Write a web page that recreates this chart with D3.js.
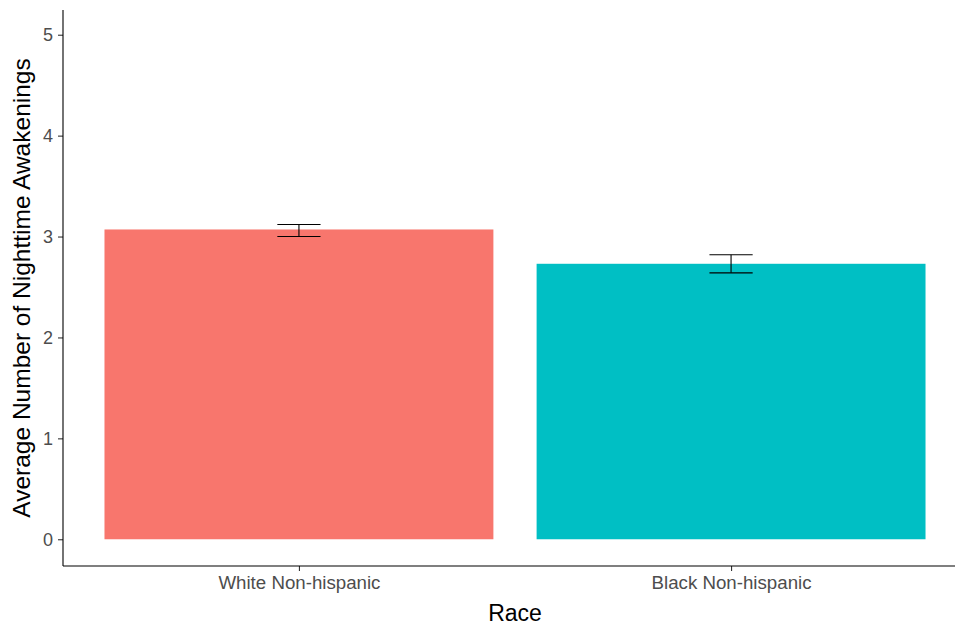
<!DOCTYPE html>
<html>
<head>
<meta charset="utf-8">
<script src="https://cdn.jsdelivr.net/npm/d3@7"></script>
<style>
  html, body { margin: 0; padding: 0; background: #fff; }
  svg { display: block; font-family: "Liberation Sans", Arial, sans-serif; }
</style>
</head>
<body>
<svg id="chart" width="955" height="625"></svg>
<script>
const categories = ["White Non-hispanic", "Black Non-hispanic"];
const means = [3.07, 2.73];
const errLow = [3.00, 2.64];
const errHigh = [3.12, 2.82];
const colors = ["#F8766D", "#00BFC4"];
const yTicks = [0, 1, 2, 3, 4, 5];
const xTitle = "Race";
const yTitle = "Average Number of Nighttime Awakenings";

const svg = d3.select("#chart");
const pLeft = 63, pRight = 967, pTop = 10, pBottom = 566;

const x = d3.scalePoint().domain(categories).range([pLeft, pRight]).padding(0.546);
const step = x.step();
const barW = step * 0.9;
const capW = step * 0.05;
const y = d3.scaleLinear().domain([-0.265, 5.245]).range([pBottom, pTop]);

// bars
svg.append("g").selectAll("rect").data(categories).join("rect")
  .attr("x", d => x(d) - barW / 2)
  .attr("width", barW)
  .attr("y", (d, i) => y(means[i]))
  .attr("height", (d, i) => y(0) - y(means[i]))
  .attr("fill", (d, i) => colors[i]);

// error bars
const eb = svg.append("g").attr("stroke", "#000").attr("stroke-width", 1.1).attr("fill", "none");
categories.forEach((c, i) => {
  const cx = x(c);
  eb.append("line").attr("x1", cx).attr("x2", cx).attr("y1", y(errLow[i])).attr("y2", y(errHigh[i]));
  eb.append("line").attr("x1", cx - capW).attr("x2", cx + capW).attr("y1", y(errLow[i])).attr("y2", y(errLow[i]));
  eb.append("line").attr("x1", cx - capW).attr("x2", cx + capW).attr("y1", y(errHigh[i])).attr("y2", y(errHigh[i]));
});

// y axis
const yAxis = d3.axisLeft(y).tickValues(yTicks).tickSize(5).tickPadding(5).tickFormat(d3.format("d"));
const gy = svg.append("g").attr("transform", `translate(${pLeft},0)`).call(yAxis);
gy.select(".domain").remove();
gy.append("line").attr("x1", 0).attr("x2", 0).attr("y1", pTop).attr("y2", pBottom).attr("stroke", "#000").attr("stroke-width", 1.1);
gy.selectAll(".tick line").attr("stroke", "#333").attr("stroke-width", 1.1);
gy.selectAll(".tick text").attr("fill", "#4D4D4D").style("font-size", "18px").attr("font-family", "Liberation Sans, Arial, sans-serif");

// x axis
const xAxis = d3.axisBottom(x).tickSize(5).tickPadding(5);
const gx = svg.append("g").attr("transform", `translate(0,${pBottom})`).call(xAxis);
gx.select(".domain").remove();
gx.append("line").attr("x1", pLeft).attr("x2", pRight).attr("y1", 0).attr("y2", 0).attr("stroke", "#000").attr("stroke-width", 1.1);
gx.selectAll(".tick line").attr("stroke", "#333").attr("stroke-width", 1.1);
gx.selectAll(".tick text").attr("fill", "#4D4D4D").style("font-size", "18.7px").attr("font-family", "Liberation Sans, Arial, sans-serif");

// titles
svg.append("text").attr("x", 515).attr("y", 621)
  .attr("text-anchor", "middle").style("font-size", "23px").attr("fill", "#000").text(xTitle);
svg.append("text").attr("transform", `translate(30,288) rotate(-90)`)
  .attr("text-anchor", "middle").style("font-size", "24.5px").attr("fill", "#000").text(yTitle);
</script>
</body>
</html>
